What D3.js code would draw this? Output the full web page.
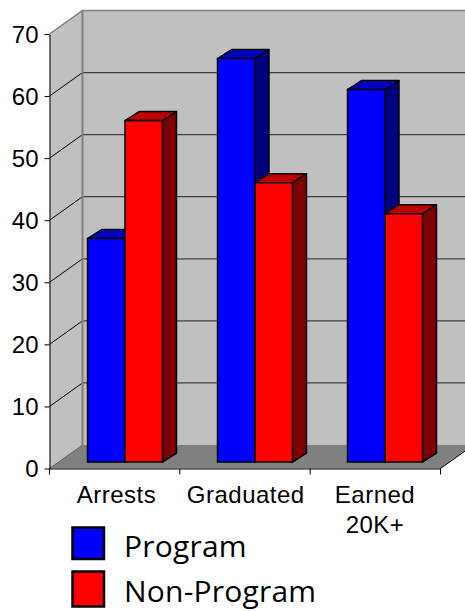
<!DOCTYPE html>
<html>
<head>
<meta charset="utf-8">
<script src="https://cdn.jsdelivr.net/npm/d3@7"></script>
<style>
  html, body { margin: 0; padding: 0; background: #fff; }
  svg { display: block; }
  .tick text { font-family: "Liberation Sans", Arial, sans-serif; fill: #000; }
</style>
</head>
<body>
<div id="chart"></div>
<script>
// values
var categories = ["Arrests", "Graduated", "Earned 20K+"];
var seriesNames = ["Program", "Non-Program"];
var seriesColors = ["#0000ff", "#ff0000"];
var topColors = ["#0000bf", "#bf0000"];
var sideColors = ["#00007f", "#7f0000"];
var program = [36, 65, 60];
var nonProgram = [55, 45, 40];
var yTicks = [0, 10, 20, 30, 40, 50, 60, 70];

var series = [program, nonProgram];

// set the dimensions of the graph
var width = 465, height = 611;
var x0 = 49.5, x1 = 440.5, yBase = 468.5, yTop = 34;
var wallDx = 33, wallDy = -23.5;  // depth of the whole box
var barShiftY = -6.5;             // bars stand a bit inside the floor
var barDx = 14, barDy = -9;       // depth of one bar

var svg = d3.select("#chart")
  .append("svg")
  .attr("width", width)
  .attr("height", height);

var x = d3.scaleBand()
  .domain(categories)
  .range([x0, x1]);

// the bar groups sit on a slightly tighter step than the axis ticks
var xGroup = d3.scaleBand()
  .domain(categories)
  .range([87.5, 87.5 + 3 * 130]);

var xLabel = d3.scalePoint()
  .domain(categories)
  .range([116.5, 375]);

var y = d3.scaleLinear()
  .domain([0, 70])
  .range([yBase, yTop]);

var xSeries = d3.scaleBand()
  .domain(d3.range(seriesNames.length))
  .range([0, 75]);

var poly = function(pts) { return pts.map(function(p) { return p.join(","); }).join(" "); };

// side wall, back wall, floor
svg.append("polygon")
  .attr("points", poly([[x0, y(0)], [x0 + wallDx, y(0) + wallDy], [x0 + wallDx, y(70) + wallDy], [x0, y(70)]]))
  .attr("fill", "#c0c0c0");
svg.append("rect")
  .attr("x", x0 + wallDx).attr("y", y(70) + wallDy)
  .attr("width", width - x0 - wallDx)
  .attr("height", y(0) - y(70))
  .attr("fill", "#c0c0c0");
svg.append("polygon")
  .attr("points", poly([[x0, y(0)], [x1, y(0)], [x1 + wallDx, y(0) + wallDy], [x0 + wallDx, y(0) + wallDy]]))
  .attr("fill", "#808080");

// gridlines
var grid = svg.append("g");
grid.selectAll(".back")
  .data(yTicks.slice(1, -1))
  .enter().append("line")
  .attr("x1", x0 + wallDx).attr("x2", width)
  .attr("y1", function(d) { return y(d) + wallDy; })
  .attr("y2", function(d) { return y(d) + wallDy; })
  .attr("stroke", "#404040")
  .attr("stroke-width", 1.2);
grid.selectAll(".side")
  .data(yTicks.slice(1, -1))
  .enter().append("line")
  .attr("x1", x0).attr("x2", x0 + wallDx)
  .attr("y1", function(d) { return y(d); })
  .attr("y2", function(d) { return y(d) + wallDy; })
  .attr("stroke", "#000")
  .attr("stroke-width", 1);

// frame of the walls
svg.append("path")
  .attr("d", "M" + x0 + "," + y(70) + "L" + (x0 + wallDx) + "," + (y(70) + wallDy) + "H" + width)
  .attr("fill", "none").attr("stroke", "#808080").attr("stroke-width", 1.5);
svg.append("line")
  .attr("x1", x0 + wallDx).attr("x2", x0 + wallDx)
  .attr("y1", y(70) + wallDy).attr("y2", y(0) + wallDy)
  .attr("stroke", "#808080").attr("stroke-width", 2);
svg.append("line")
  .attr("x1", x0).attr("x2", x0 + wallDx)
  .attr("y1", y(0)).attr("y2", y(0) + wallDy)
  .attr("stroke", "#606060").attr("stroke-width", 1);
svg.append("line")
  .attr("x1", x1).attr("x2", x1 + wallDx)
  .attr("y1", y(0)).attr("y2", y(0) + wallDy)
  .attr("stroke", "#000").attr("stroke-width", 1);

// bars, first series first so the red one covers the blue side
categories.forEach(function(cat, i) {
  var g = svg.append("g")
    .attr("transform", "translate(" + xGroup(cat) + "," + barShiftY + ")");
  [0, 1].forEach(function(s) {
    var v = series[s][i];
    var bx = xSeries(s), bw = xSeries.bandwidth();
    var top = y(v), bot = y(0);
    g.append("polygon")
      .attr("points", poly([[bx + bw, top], [bx + bw + barDx, top + barDy], [bx + bw + barDx, bot + barDy], [bx + bw, bot]]))
      .attr("fill", sideColors[s]).attr("stroke", "#000").attr("stroke-width", 1.5).attr("stroke-linejoin", "round");
    g.append("polygon")
      .attr("points", poly([[bx, top], [bx + barDx, top + barDy], [bx + bw + barDx, top + barDy], [bx + bw, top]]))
      .attr("fill", topColors[s]).attr("stroke", "#000").attr("stroke-width", 1.5).attr("stroke-linejoin", "round");
    g.append("rect")
      .attr("x", bx).attr("y", top)
      .attr("width", bw).attr("height", bot - top)
      .attr("fill", seriesColors[s]).attr("stroke", "#000").attr("stroke-width", 1.5);
  });
});

// Y axis
var yAxis = svg.append("g")
  .attr("transform", "translate(" + x0 + ",0)")
  .call(d3.axisLeft(y).tickValues(yTicks).tickSize(5).tickPadding(6).tickSizeOuter(0));
yAxis.selectAll("text").attr("font-size", "24px").attr("dy", "0.34em");
yAxis.select(".domain").attr("stroke", "#000").attr("stroke-width", 1);

// X axis
var xAxis = svg.append("g")
  .attr("transform", "translate(0," + yBase + ")")
  .call(d3.axisBottom(x).tickSize(0).tickPadding(0));
xAxis.select(".domain").attr("stroke", "#000").attr("stroke-width", 1);
xAxis.selectAll("line").remove();
xAxis.selectAll("text").remove();
xAxis.selectAll(".sep")
  .data([x0].concat(categories.map(function(c) { return x(c) + x.bandwidth(); })))
  .enter().append("line")
  .attr("x1", function(d) { return d; }).attr("x2", function(d) { return d; })
  .attr("y1", 0).attr("y2", 6)
  .attr("stroke", "#000");

// category labels, the long one takes two rows
var labels = svg.selectAll(".cat")
  .data(categories)
  .enter().append("text")
  .attr("class", "cat")
  .attr("x", function(d) { return xLabel(d); })
  .attr("y", 503)
  .attr("text-anchor", "middle")
  .attr("font-family", '"Liberation Sans", Arial, sans-serif')
  .attr("font-size", "24px")
  .attr("letter-spacing", "0.5px");
labels.each(function(d) {
  var self = d3.select(this);
  var words = d === "Earned 20K+" ? d.split(" ") : [d];
  words.forEach(function(w, j) {
    self.append("tspan")
      .attr("x", self.attr("x"))
      .attr("dy", j === 0 ? 0 : 30)
      .text(w);
  });
});

// legend, the second swatch is a bit taller in the picture
var legend = svg.selectAll(".legend")
  .data(seriesNames)
  .enter().append("g")
  .attr("class", "legend");
legend.append("rect")
  .attr("x", 72.5)
  .attr("y", function(d, i) { return i === 0 ? 527.5 : 571.5; })
  .attr("width", 31.5)
  .attr("height", function(d, i) { return i === 0 ? 31.5 : 35; })
  .attr("fill", function(d, i) { return seriesColors[i]; })
  .attr("stroke", "#000").attr("stroke-width", 2.5);
legend.append("text")
  .attr("x", 124)
  .attr("y", function(d, i) { return i === 0 ? 557 : 602; })
  .attr("font-family", '"Comic Sans MS", "Open Sans", "Noto Sans", sans-serif')
  .attr("font-size", "30px")
  .attr("letter-spacing", "0.2px")
  .text(function(d) { return d; });
</script>
</body>
</html>
